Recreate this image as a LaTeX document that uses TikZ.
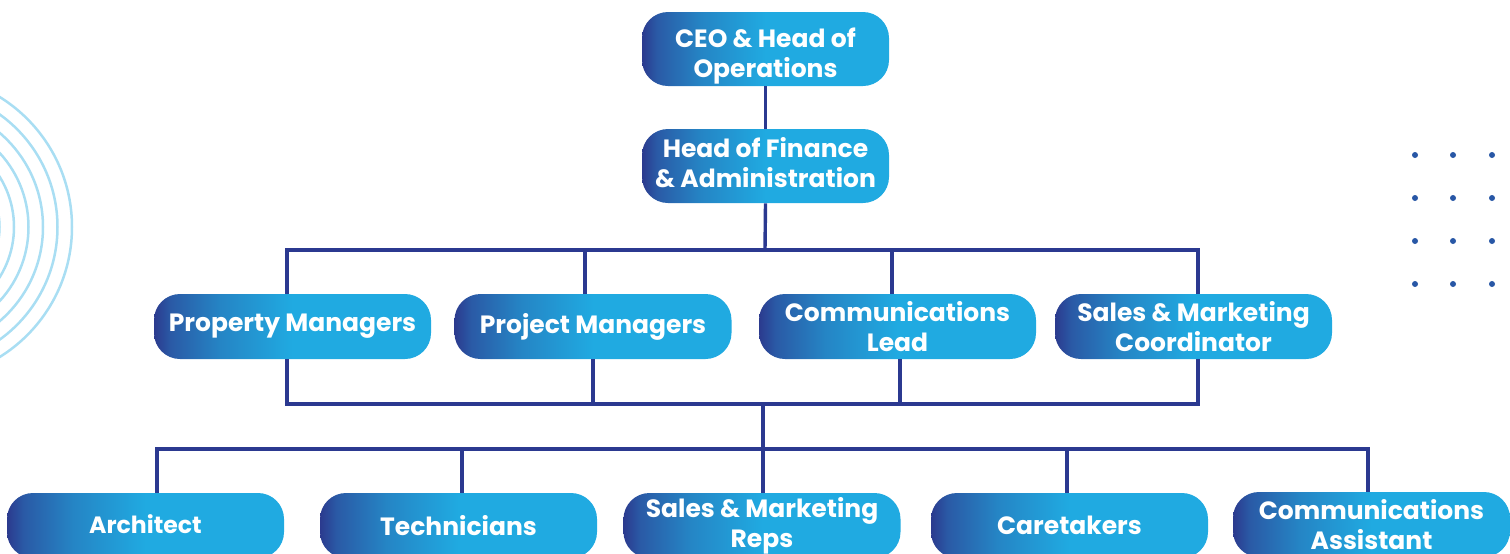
\documentclass[tikz,border=0pt]{standalone}
\usepackage{fontspec}
\setmainfont{Poppins}
\definecolor{cnavy}{HTML}{2B3A8E}
\definecolor{cnavyb}{HTML}{2A5AA6}
\definecolor{cmid}{HTML}{2585C5}
\definecolor{ccyan}{HTML}{20AAE1}
\definecolor{cline}{HTML}{2B3990}
\definecolor{carc}{HTML}{A9DEF3}
\definecolor{cdot}{HTML}{2857A6}
\pgfdeclarehorizontalshading{boxshade}{100bp}{color(0bp)=(cnavy); color(25bp)=(cnavy); color(28bp)=(cnavyb); color(37bp)=(cmid); color(50bp)=(ccyan); color(100bp)=(ccyan)}
\begin{document}
\begin{tikzpicture}[x=0.5pt,y=-0.5pt,
  box/.style={rectangle, rounded corners=13pt, shading=boxshade, draw=none,
    text=white, align=center, inner sep=0pt,
    font=\fontsize{12.5pt}{15pt}\selectfont\bfseries},
  topbox/.style={box, minimum width=123.5pt, minimum height=37pt},
  midbox/.style={box, minimum width=138.5pt, minimum height=32.5pt},
  lowbox/.style={box, minimum width=138.5pt, minimum height=32.5pt},
  conn/.style={draw=cline, line width=1.7pt},
  arc/.style={draw=carc, line width=1.25pt},
  dot/.style={fill=cdot, draw=none}]
\useasboundingbox (0,0) rectangle (1510,553);
\clip (0,0) rectangle (1510,553);
% decorative arcs
\foreach \r in {153,138.5,124,109.5,95,80.5}
  \draw[arc] (-81,227) circle[radius=\r*0.5pt];
% decorative dots
\foreach \xx in {1415,1453,1492}
  \foreach \yy in {155,198,241,284}
    \fill[dot] (\xx,\yy) circle[radius=3pt*0.5];
% nodes
\node[topbox] (ceo) at (765.5,49) {};
\node[text=white, align=center, font=\fontsize{12.5pt}{15pt}\selectfont\bfseries] (ceot) at (765.5,56) {CEO \& Head of\\Operations};
\node[topbox] (hfa) at (765.5,166) {};
\node[text=white, align=center, font=\fontsize{12.5pt}{15pt}\selectfont\bfseries] (hfat) at (765.5,163) {Head of Finance\\\& Administration};
\node[midbox] (prop) at (292.5,326.5) {\raisebox{-1.5pt}{Property Managers}};
\node[midbox] (proj) at (593,326.5) {\raisebox{-1pt}{Project Managers}};
\node[midbox] (comm) at (897.5,326.5) {Communications\\Lead};
\node[midbox] (sales) at (1193.5,326.5) {Sales \& Marketing\\Coordinator};
\node[lowbox] (arch) at (145.5,525.5) {\fontsize{11.8pt}{15pt}\selectfont\raisebox{1pt}{Architect}};
\node[lowbox] (tech) at (458.5,525.5) {Technicians};
\node[lowbox] (reps) at (762,525.5) {Sales \& Marketing\\Reps};
\node[lowbox] (care) at (1069.5,525.5) {Caretakers};
\node[lowbox] (casst) at (1371.5,524.5) {Communications\\Assistant};
% junction coordinates
\coordinate (j1) at (765,250);
\coordinate (j2) at (763,404);
\coordinate (j3) at (763,449);
% connectors
\draw[conn] (ceo.south) -- (hfa.north);
\draw[conn] (hfa.south) -- (j1);
\draw[conn] ([xshift=-2.75pt]prop.north) |- (j1) -| ([xshift=2.25pt]sales.north);
\draw[conn] ([xshift=-4pt]proj.north) -- ([xshift=-4pt]proj.north |- j1);
\draw[conn] ([xshift=-2.75pt]comm.north) -- ([xshift=-2.75pt]comm.north |- j1);
\draw[conn] ([xshift=-2.75pt]prop.south) |- (j2) -| ([xshift=2.25pt]sales.south);
\draw[conn] (proj.south) -- (proj.south |- j2);
\draw[conn] ([xshift=1.25pt]comm.south) -- ([xshift=1.25pt]comm.south |- j2);
\draw[conn] (j2) -- (j3);
\draw[conn] ([xshift=5.75pt]arch.north) |- (j3) -| ([xshift=-1.75pt]casst.north);
\draw[conn] ([xshift=1.75pt]tech.north) -- ([xshift=1.75pt]tech.north |- j3);
\draw[conn] ([xshift=0.5pt]reps.north) -- ([xshift=0.5pt]reps.north |- j3);
\draw[conn] ([xshift=-1.25pt]care.north) -- ([xshift=-1.25pt]care.north |- j3);
\end{tikzpicture}
\end{document}
